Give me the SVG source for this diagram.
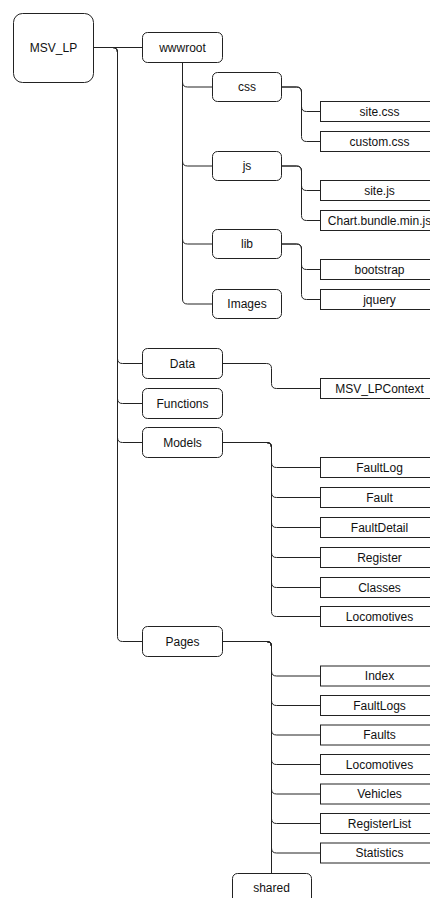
<svg xmlns="http://www.w3.org/2000/svg" width="430" height="898" viewBox="0 0 430 898">
<style>
  .box { fill: #ffffff; stroke: #222222; stroke-width: 1; }
  .leaf { fill: #ffffff; stroke: #222222; stroke-width: 1; }
  .lbl { font-family: "Liberation Sans", Arial, sans-serif; font-size: 12px; fill: #111111; text-anchor: middle; }
  .edge { fill: none; stroke: #222222; stroke-width: 1; }
</style>
<rect width="430" height="898" fill="#ffffff"/>
<g id="connectors">
  <!-- root -->
  <path class="edge" d="M93.5,47.5 H142.5"/>
  <path class="edge" d="M93.5,47.5 H112.5 Q117.5,47.5 117.5,52.5 V358.5 Q117.5,363.5 122.5,363.5 H142.5"/>
  <path class="edge" d="M93.5,47.5 H112.5 Q117.5,47.5 117.5,52.5 V398.5 Q117.5,403.5 122.5,403.5 H142.5"/>
  <path class="edge" d="M93.5,47.5 H112.5 Q117.5,47.5 117.5,52.5 V437.5 Q117.5,442.5 122.5,442.5 H142.5"/>
  <path class="edge" d="M93.5,47.5 H112.5 Q117.5,47.5 117.5,52.5 V636.5 Q117.5,641.5 122.5,641.5 H142.5"/>
  <!-- wwwroot -->
  <path class="edge" d="M182.5,62.5 V82 Q182.5,87 187.5,87 H212.5"/>
  <path class="edge" d="M182.5,62.5 V161 Q182.5,166 187.5,166 H212.5"/>
  <path class="edge" d="M182.5,62.5 V239 Q182.5,244 187.5,244 H212.5"/>
  <path class="edge" d="M182.5,62.5 V299 Q182.5,304 187.5,304 H212.5"/>
  <!-- css -->
  <path class="edge" d="M281.5,87 H296.5 Q301.5,87 301.5,92 V106.5 Q301.5,111.5 306.5,111.5 H320.5"/>
  <path class="edge" d="M281.5,87 H296.5 Q301.5,87 301.5,92 V136.5 Q301.5,141.5 306.5,141.5 H320.5"/>
  <!-- js -->
  <path class="edge" d="M281.5,166 H296.5 Q301.5,166 301.5,171 V185.5 Q301.5,190.5 306.5,190.5 H320.5"/>
  <path class="edge" d="M281.5,166 H296.5 Q301.5,166 301.5,171 V215.5 Q301.5,220.5 306.5,220.5 H320.5"/>
  <!-- lib -->
  <path class="edge" d="M281.5,244 H296.5 Q301.5,244 301.5,249 V264.5 Q301.5,269.5 306.5,269.5 H320.5"/>
  <path class="edge" d="M281.5,244 H296.5 Q301.5,244 301.5,249 V294.5 Q301.5,299.5 306.5,299.5 H320.5"/>
  <!-- Data -->
  <path class="edge" d="M222.5,363.5 H266.5 Q271.5,363.5 271.5,368.5 V383.5 Q271.5,388.5 276.5,388.5 H320.5"/>
  <!-- Models -->
  <path class="edge" d="M222.5,442.5 H266.5 Q271.5,442.5 271.5,447.5 V462.5 Q271.5,467.5 276.5,467.5 H320.5"/>
  <path class="edge" d="M222.5,442.5 H266.5 Q271.5,442.5 271.5,447.5 V492.5 Q271.5,497.5 276.5,497.5 H320.5"/>
  <path class="edge" d="M222.5,442.5 H266.5 Q271.5,442.5 271.5,447.5 V522.5 Q271.5,527.5 276.5,527.5 H320.5"/>
  <path class="edge" d="M222.5,442.5 H266.5 Q271.5,442.5 271.5,447.5 V552.5 Q271.5,557.5 276.5,557.5 H320.5"/>
  <path class="edge" d="M222.5,442.5 H266.5 Q271.5,442.5 271.5,447.5 V582.5 Q271.5,587.5 276.5,587.5 H320.5"/>
  <path class="edge" d="M222.5,442.5 H266.5 Q271.5,442.5 271.5,447.5 V611.5 Q271.5,616.5 276.5,616.5 H320.5"/>
  <!-- Pages -->
  <path class="edge" d="M222.5,641.5 H266.5 Q271.5,641.5 271.5,646.5 V671 Q271.5,676 276.5,676 H320.5"/>
  <path class="edge" d="M222.5,641.5 H266.5 Q271.5,641.5 271.5,646.5 V700.5 Q271.5,705.5 276.5,705.5 H320.5"/>
  <path class="edge" d="M222.5,641.5 H266.5 Q271.5,641.5 271.5,646.5 V730 Q271.5,735 276.5,735 H320.5"/>
  <path class="edge" d="M222.5,641.5 H266.5 Q271.5,641.5 271.5,646.5 V759.5 Q271.5,764.5 276.5,764.5 H320.5"/>
  <path class="edge" d="M222.5,641.5 H266.5 Q271.5,641.5 271.5,646.5 V789 Q271.5,794 276.5,794 H320.5"/>
  <path class="edge" d="M222.5,641.5 H266.5 Q271.5,641.5 271.5,646.5 V818.5 Q271.5,823.5 276.5,823.5 H320.5"/>
  <path class="edge" d="M222.5,641.5 H266.5 Q271.5,641.5 271.5,646.5 V848 Q271.5,853 276.5,853 H320.5"/>
  <path class="edge" d="M222.5,641.5 H266.5 Q271.5,641.5 271.5,646.5 V873.5"/>
</g>
<g id="MSV_LP"><rect class="box" x="13.5" y="13.5" width="80" height="69" rx="9"/><text class="lbl" x="53.5" y="52">MSV_LP</text></g>
<g id="wwwroot"><rect class="box" x="142.5" y="32.5" width="80" height="30" rx="5"/><text class="lbl" x="182.5" y="51.5">wwwroot</text></g>
<g id="css"><rect class="box" x="212.5" y="72.5" width="69" height="29" rx="5"/><text class="lbl" x="247" y="91">css</text></g>
<g id="site_css"><rect class="leaf" x="320.5" y="101.5" width="118" height="20"/><text class="lbl" x="379.5" y="115.5">site.css</text></g>
<g id="custom_css"><rect class="leaf" x="320.5" y="131.5" width="118" height="20"/><text class="lbl" x="379.5" y="145.5">custom.css</text></g>
<g id="js"><rect class="box" x="212.5" y="151.5" width="69" height="29" rx="5"/><text class="lbl" x="247" y="170">js</text></g>
<g id="site_js"><rect class="leaf" x="320.5" y="180.5" width="118" height="20"/><text class="lbl" x="379.5" y="194.5">site.js</text></g>
<g id="chart_js"><rect class="leaf" x="320.5" y="210.5" width="118" height="20"/><text class="lbl" x="379.5" y="224.5">Chart.bundle.min.js</text></g>
<g id="lib"><rect class="box" x="212.5" y="229.5" width="69" height="29" rx="5"/><text class="lbl" x="247" y="248">lib</text></g>
<g id="bootstrap"><rect class="leaf" x="320.5" y="259.5" width="118" height="20"/><text class="lbl" x="379.5" y="273.5">bootstrap</text></g>
<g id="jquery"><rect class="leaf" x="320.5" y="289.5" width="118" height="20"/><text class="lbl" x="379.5" y="303.5">jquery</text></g>
<g id="Images"><rect class="box" x="212.5" y="289.5" width="69" height="29" rx="5"/><text class="lbl" x="247" y="308">Images</text></g>
<g id="Data"><rect class="box" x="142.5" y="348.5" width="80" height="30" rx="5"/><text class="lbl" x="182.5" y="367.5">Data</text></g>
<g id="MSV_LPContext"><rect class="leaf" x="320.5" y="378.5" width="118" height="20"/><text class="lbl" x="379.5" y="392.5">MSV_LPContext</text></g>
<g id="Functions"><rect class="box" x="142.5" y="388.5" width="80" height="30" rx="5"/><text class="lbl" x="182.5" y="407.5">Functions</text></g>
<g id="Models"><rect class="box" x="142.5" y="427.5" width="80" height="30" rx="5"/><text class="lbl" x="182.5" y="446.5">Models</text></g>
<g id="FaultLog"><rect class="leaf" x="320.5" y="457.5" width="118" height="20"/><text class="lbl" x="379.5" y="471.5">FaultLog</text></g>
<g id="Fault"><rect class="leaf" x="320.5" y="487.5" width="118" height="20"/><text class="lbl" x="379.5" y="501.5">Fault</text></g>
<g id="FaultDetail"><rect class="leaf" x="320.5" y="517.5" width="118" height="20"/><text class="lbl" x="379.5" y="531.5">FaultDetail</text></g>
<g id="Register"><rect class="leaf" x="320.5" y="547.5" width="118" height="20"/><text class="lbl" x="379.5" y="561.5">Register</text></g>
<g id="Classes"><rect class="leaf" x="320.5" y="577.5" width="118" height="20"/><text class="lbl" x="379.5" y="591.5">Classes</text></g>
<g id="Locomotives_model"><rect class="leaf" x="320.5" y="606.5" width="118" height="20"/><text class="lbl" x="379.5" y="620.5">Locomotives</text></g>
<g id="Pages"><rect class="box" x="142.5" y="626.5" width="80" height="30" rx="5"/><text class="lbl" x="182.5" y="645.5">Pages</text></g>
<g id="Index"><rect class="leaf" x="320.5" y="666" width="118" height="20"/><text class="lbl" x="379.5" y="680">Index</text></g>
<g id="FaultLogs"><rect class="leaf" x="320.5" y="695.5" width="118" height="20"/><text class="lbl" x="379.5" y="709.5">FaultLogs</text></g>
<g id="Faults"><rect class="leaf" x="320.5" y="725" width="118" height="20"/><text class="lbl" x="379.5" y="739">Faults</text></g>
<g id="Locomotives_page"><rect class="leaf" x="320.5" y="754.5" width="118" height="20"/><text class="lbl" x="379.5" y="768.5">Locomotives</text></g>
<g id="Vehicles"><rect class="leaf" x="320.5" y="784" width="118" height="20"/><text class="lbl" x="379.5" y="798">Vehicles</text></g>
<g id="RegisterList"><rect class="leaf" x="320.5" y="813.5" width="118" height="20"/><text class="lbl" x="379.5" y="827.5">RegisterList</text></g>
<g id="Statistics"><rect class="leaf" x="320.5" y="843" width="118" height="20"/><text class="lbl" x="379.5" y="857">Statistics</text></g>
<g id="shared"><rect class="box" x="232.5" y="873.5" width="79" height="35" rx="5"/><text class="lbl" x="271.5" y="892">shared</text></g>
</svg>
